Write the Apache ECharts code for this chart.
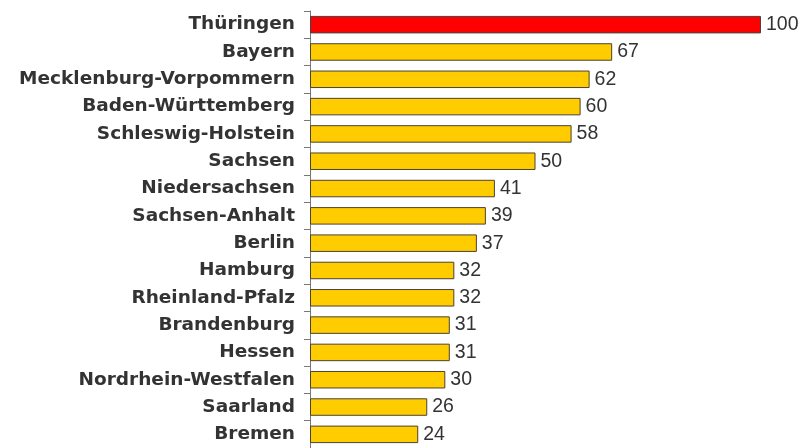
<!DOCTYPE html>
<html>
<head>
<meta charset="utf-8">
<script src="https://cdn.jsdelivr.net/npm/echarts@6/dist/echarts.min.js"></script>
<style>
  html, body { margin: 0; padding: 0; background: #fff; }
  #chart { width: 805px; height: 448px; }
</style>
</head>
<body>
<div id="chart"></div>
<script>
// Bundesländer, von oben nach unten
var laender = ['Thüringen', 'Bayern', 'Mecklenburg-Vorpommern', 'Baden-Württemberg',
  'Schleswig-Holstein', 'Sachsen', 'Niedersachsen', 'Sachsen-Anhalt', 'Berlin',
  'Hamburg', 'Rheinland-Pfalz', 'Brandenburg', 'Hessen', 'Nordrhein-Westfalen',
  'Saarland', 'Bremen'];
var werte = [100, 67, 62, 60, 58, 50, 41, 39, 37, 32, 32, 31, 31, 30, 26, 24];
var hervorgehoben = ['Thüringen'];

var chart = echarts.init(document.getElementById('chart'), null, { renderer: 'canvas' });

var option = {
  animation: false,
  grid: {
    left: 310,
    right: 44,
    top: 11,
    bottom: -4
  },
  xAxis: {
    type: 'value',
    min: 0,
    max: 100,
    show: false
  },
  yAxis: {
    type: 'category',
    data: laender,
    inverse: true,
    axisLine: { show: true, lineStyle: { color: '#777', width: 1 } },
    axisTick: { show: true, length: 6, lineStyle: { color: '#777' } },
    axisLabel: {
      margin: 15,
      color: '#333',
      fontFamily: 'DejaVu Sans',
      fontWeight: 'bold',
      fontSize: 18.5
    }
  },
  series: [{
    type: 'bar',
    barWidth: 17.5,
    data: werte.map(function (v, i) {
      var rot = hervorgehoben.indexOf(laender[i]) >= 0;
      return {
        value: v,
        itemStyle: {
          color: rot ? '#ff0000' : '#ffcc00',
          borderColor: rot ? '#444' : '#4a4235',
          borderWidth: 1
        }
      };
    }),
    label: {
      show: true,
      position: 'right',
      distance: 5,
      color: '#333',
      fontFamily: 'Liberation Sans',
      fontSize: 19.5
    }
  }]
};

chart.setOption(option);
</script>
</body>
</html>
